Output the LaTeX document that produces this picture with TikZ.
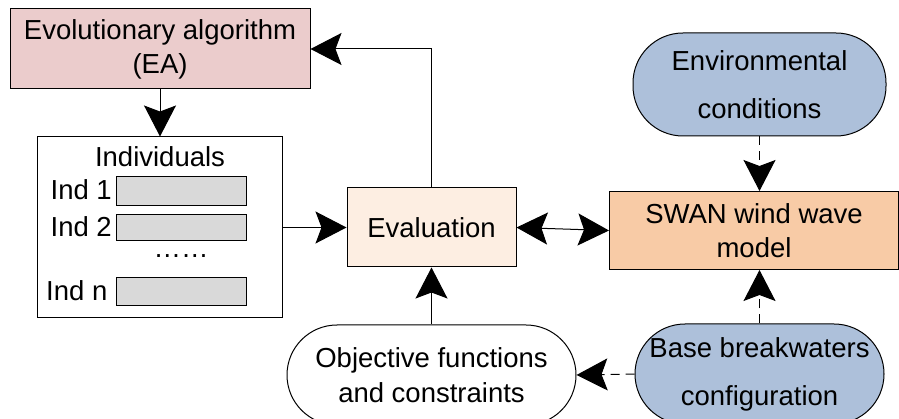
\documentclass[tikz,border=0pt]{standalone}
\usepackage{fontspec}
\setmainfont{Liberation Sans}
\usetikzlibrary{arrows.meta}
\definecolor{eafill}{RGB}{235,204,204}
\definecolor{evalfill}{RGB}{253,238,226}
\definecolor{swanfill}{RGB}{248,203,166}
\definecolor{bluefill}{RGB}{173,192,218}
\definecolor{grayfill}{RGB}{217,217,217}
\tikzset{
  box/.style={draw=black, line width=1pt, inner sep=0pt, align=center, font=\fontsize{27.5}{34}\selectfont},
  stadium/.style={draw=black, line width=1pt, inner sep=0pt, align=center, rounded corners=50pt},
  slot/.style={draw=black, line width=1pt, fill=grayfill, inner sep=0pt},
  lbl/.style={inner sep=0pt, font=\fontsize{27.5}{34}\selectfont},
  tip/.tip={Stealth[length=31pt,width=32pt,inset=6pt]},
  conn/.style={line width=1pt, -tip},
  dconn/.style={conn, dash pattern=on 9pt off 6pt},
}
\begin{document}
\begin{tikzpicture}[x=1pt,y=-1pt]
\useasboundingbox (0,0) rectangle (899,419);
\node[box, fill=eafill, minimum width=300pt, minimum height=80pt] (ea) at (160,49) {Evolutionary algorithm\\(EA)};
\node[box, fill=white, minimum width=245pt, minimum height=181pt] (ind) at (159.5,227.5) {};
\node[lbl] (indt) at (160,157) {Individuals};
\node[slot, minimum width=130pt, minimum height=29pt] (s1) at (181,191.5) {};
\node[slot, minimum width=130pt, minimum height=26pt] (s2) at (181,228) {};
\node[slot, minimum width=130pt, minimum height=28pt] (sn) at (181,292) {};
\node[lbl, anchor=east] (l1) at (112,190) {Ind 1};
\node[lbl, anchor=east] (l2) at (112,227) {Ind 2};
\node[lbl, anchor=west] (ln) at (46,291) {Ind n};
\node[lbl] (dots) at (181,256) {……};
\node[box, fill=evalfill, minimum width=169pt, minimum height=79pt] (eval) at (431.5,227.5) {Evaluation};
\node[box, fill=swanfill, minimum width=289pt, minimum height=78pt] (swan) at (754,230.5) {SWAN wind wave\\model};
\node[stadium, fill=bluefill, minimum width=253pt, minimum height=103pt, font=\fontsize{27.5}{48}\selectfont] (env) at (759.5,84.5) {Environmental\\conditions};
\node[stadium, fill=white, minimum width=289pt, minimum height=100pt, font=\fontsize{27.5}{35}\selectfont] (obj) at (431.5,375) {Objective functions\\and constraints};
\node[stadium, fill=bluefill, minimum width=249pt, minimum height=100pt, font=\fontsize{27.5}{48}\selectfont] (base) at (759.5,374) {Base breakwaters\\configuration};
\draw[conn] (ea.south) -- (ea.south |- ind.north);
\draw[conn] (ind.east) -- (eval.west);
\draw[conn] (eval.north) |- (ea.east);
\draw[line width=1pt, tip-tip] (eval.east) -- (swan.west);
\draw[dconn] (env.south) -- (env.south |- swan.north);
\draw[dconn] (base.north) -- (base.north |- swan.south);
\draw[dconn] (base.west) -- (obj.east);
\draw[conn] (obj.north) -- (eval.south);
\end{tikzpicture}
\end{document}
